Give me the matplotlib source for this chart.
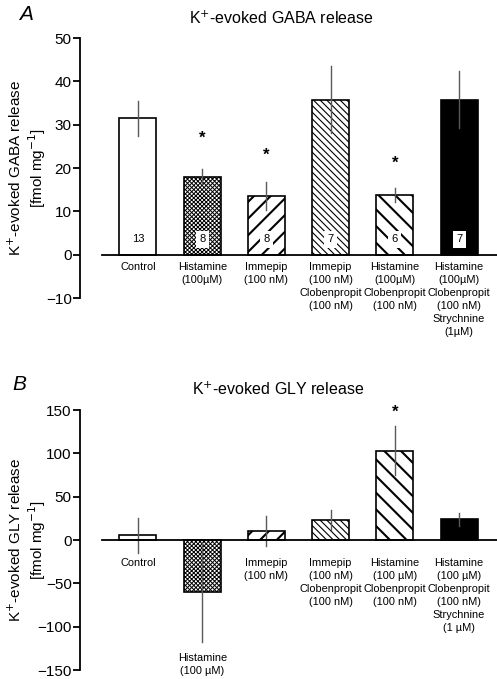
import numpy as np
import matplotlib
matplotlib.use('Agg')
import matplotlib.pyplot as plt

plt.rcParams['font.family'] = ['Liberation Sans', 'DejaVu Sans']

# Panel A data
labels_a = ['Control', 'Histamine\n(100\u00b5M)', 'Immepip\n(100 nM)',
            'Immepip\n(100 nM)\nClobenpropit\n(100 nM)',
            'Histamine\n(100\u00b5M)\nClobenpropit\n(100 nM)',
            'Histamine\n(100\u00b5M)\nClobenpropit\n(100 nM)\nStrychnine\n(1\u00b5M)']
gaba_mean = [31.5, 18.0, 13.5, 35.8, 13.7, 35.8]
gaba_err = [4.0, 1.8, 3.3, 7.7, 1.6, 6.6]
gaba_n = ['13', '8', '8', '7', '6', '7']
gaba_star = [None, 26.8, 22.9, None, 21.0, None]

# Panel B data
labels_b = ['Control', 'Histamine\n(100 \u00b5M)', 'Immepip\n(100 nM)',
            'Immepip\n(100 nM)\nClobenpropit\n(100 nM)',
            'Histamine\n(100 \u00b5M)\nClobenpropit\n(100 nM)',
            'Histamine\n(100 \u00b5M)\nClobenpropit\n(100 nM)\nStrychnine\n(1 \u00b5M)']
gly_mean = [5.5, -60.0, 10.5, 23.0, 103.0, 24.0]
gly_err = [20.0, 58.0, 17.0, 12.0, 28.0, 7.5]
gly_star = [None, None, None, None, 147.0, None]

hatches = ['', 'xxxxxxxx', '//', '\\\\\\\\\\', '\\\\', '']
hatch_lw = [1.0, 0.7, 1.5, 0.8, 1.5, 1.0]
faces = ['white', 'white', 'white', 'white', 'white', 'black']

W, H = 497, 679
fig = plt.figure(figsize=(W / 100, H / 100), dpi=100)

x = np.arange(6)
xl = (-0.903, 5.59)
bw = 0.576


def panel(ax, means, errs, hlabels, label_y, ylim, yticks, stars):
    for i in x:
        with plt.rc_context({'hatch.linewidth': hatch_lw[i]}):
            ax.bar(i, means[i], width=bw, color=faces[i], edgecolor='black',
                   hatch=hatches[i], linewidth=1.2, zorder=2)
        ax.plot([i, i], [means[i] - errs[i], means[i] + errs[i]],
                color='0.35', lw=1.0, zorder=3)
        if stars[i] is not None:
            ax.text(i, stars[i], '*', ha='center', va='center',
                    fontsize=12, fontweight='bold')
    ax.axhline(0, xmin=0.053, xmax=1, color='black', lw=1.3, zorder=4)
    for i in x:
        ax.text(i, label_y[i], hlabels[i], ha='center', va='top',
                fontsize=7.9, linespacing=1.38)
    ax.set_xlim(*xl)
    ax.set_ylim(*ylim)
    ax.set_yticks(yticks)
    ax.set_xticks([])
    for s in ['top', 'right', 'bottom']:
        ax.spines[s].set_visible(False)
    ax.spines['left'].set_linewidth(1.3)
    ax.tick_params(axis='y', length=5, width=1.3, labelsize=11, pad=1)


# panel A
axa = fig.add_axes([80 / W, 1 - 298 / H, 417 / W, 260 / H])
panel(axa, gaba_mean, gaba_err, labels_a, [-1.6] * 6, (-10, 50),
      [-10, 0, 10, 20, 30, 40, 50], gaba_star)
for i in x:
    axa.text(i, 3.5, gaba_n[i], ha='center', va='center', fontsize=8,
             zorder=5, bbox=dict(boxstyle='square,pad=0.3', fc='white',
                                 ec='none'))
axa.set_ylabel('K$^{+}$-evoked GABA release\n[fmol mg$^{-1}$]', fontsize=11,
               linespacing=1.15)
axa.yaxis.set_label_coords(-0.077, 0.5)

# panel B
axb = fig.add_axes([80 / W, 1 - 670 / H, 417 / W, 260 / H])
ly = [-20.8, -130.0, -20.8, -20.8, -20.8, -20.8]
panel(axb, gly_mean, gly_err, labels_b, ly, (-150, 150),
      [-150, -100, -50, 0, 50, 100, 150], gly_star)
axb.set_ylabel('K$^{+}$-evoked GLY release\n[fmol mg$^{-1}$]', fontsize=11,
               linespacing=1.15)
axb.yaxis.set_label_coords(-0.077, 0.5)

fig.text(281 / W, 1 - 18 / H, 'K$^{+}$-evoked GABA release', ha='center',
         va='center', fontsize=11.5)
fig.text(278 / W, 1 - 389 / H, 'K$^{+}$-evoked GLY release', ha='center',
         va='center', fontsize=11.5)
fig.text(19 / W, 1 - 15 / H, 'A', fontsize=15, style='italic', va='center')
fig.text(12 / W, 1 - 385 / H, 'B', fontsize=15, style='italic', va='center')

fig.savefig('out.png', dpi=100)
